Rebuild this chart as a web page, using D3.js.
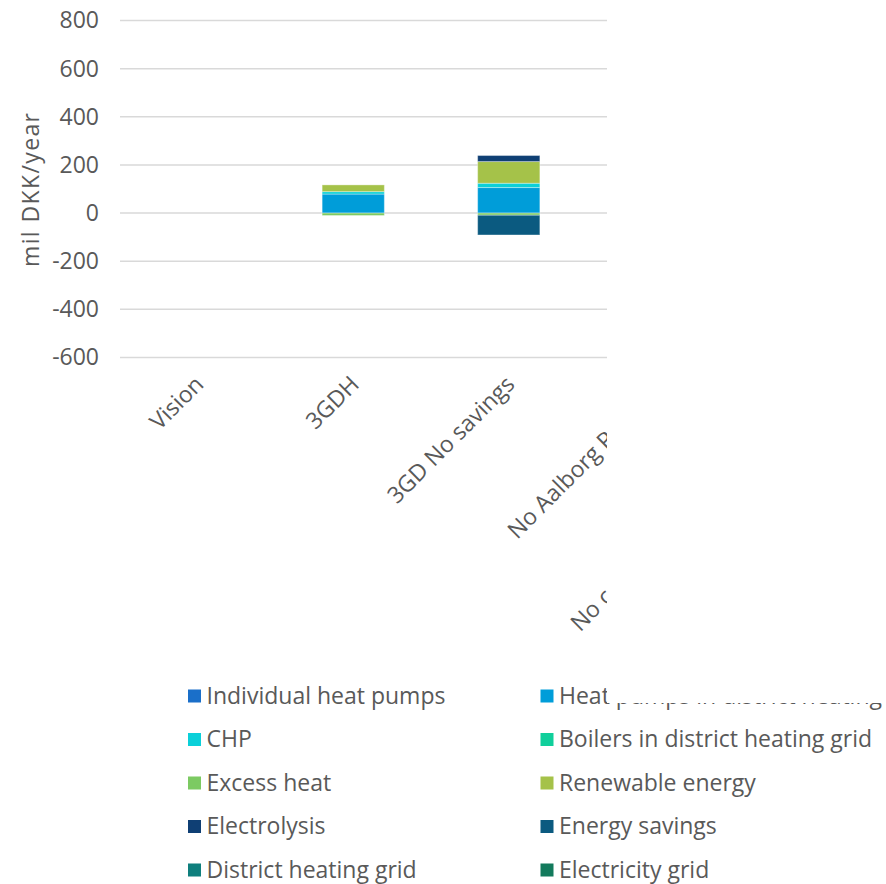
<!DOCTYPE html>
<html>
<head>
<meta charset="utf-8">
<script src="https://cdn.jsdelivr.net/npm/d3@7/dist/d3.min.js"></script>
<style>
  html, body { margin: 0; padding: 0; background: #ffffff; }
  svg { display: block; }
  text { font-family: "Open Sans", "DejaVu Sans", sans-serif; fill: #595959; }
</style>
</head>
<body>
<script>
// ---- data ----
const categories = ["Vision", "3GDH", "3GD No savings", "No Aalborg Portland", "No central district heating plants"];
const seriesNames = ["Individual heat pumps", "Heat pumps in district heating", "CHP",
  "Boilers in district heating grid", "Excess heat", "Renewable energy", "Electrolysis",
  "Energy savings", "District heating grid", "Electricity grid"];
const seriesColors = ["#1a6fc9", "#009dd9", "#0bd0d9", "#10cf9b", "#7cca62", "#a5c249",
  "#0f3f74", "#0b5a80", "#0f7f7d", "#137a5c"];
// values per series, in category order (mil DKK/year)
const individualHeatPumps = [0, 0, 0, 0, 0];
const heatPumpsDH = [0, 79, 106, 0, 0];
const chp = [0, 10, 18, 0, 0];
const boilersDH = [0, 0, 0, 0, 0];
const excessHeat = [0, -10, -9, 0, 0];
const renewableEnergy = [0, 28, 90, 0, 0];
const electrolysis = [0, 0, 25, 0, 0];
const energySavings = [0, 0, -82, 0, 0];
const districtHeatingGrid = [0, 0, 0, 0, 0];
const electricityGrid = [0, 0, 0, 0, 0];
const yTicks = [-600, -400, -200, 0, 200, 400, 600, 800];
const yTitle = "mil DKK/year";

const seriesValues = [individualHeatPumps, heatPumpsDH, chp, boilersDH, excessHeat,
  renewableEnergy, electrolysis, energySavings, districtHeatingGrid, electricityGrid];

const W = 886, H = 884;
const FS = "23px";
const svg = d3.select("body").append("svg").attr("width", W).attr("height", H);

const x = d3.scaleBand().domain(categories).range([120, 120 + 155.5 * categories.length])
  .paddingInner(0.6).paddingOuter(0.3);
const y = d3.scaleLinear().domain([-600, 800]).range([357.5, 20.5]);

// gridlines
svg.append("g").selectAll("line").data(yTicks).join("line")
  .attr("x1", 120).attr("x2", x.range()[1])
  .attr("y1", d => y(d)).attr("y2", d => y(d))
  .attr("stroke", "#d9d9d9").attr("stroke-width", 1.5);

// y axis labels
const yAxis = d3.axisLeft(y).tickValues(yTicks).tickSize(0).tickPadding(0)
  .tickFormat(d => String(d));
const gy = svg.append("g").attr("transform", "translate(99,0)").call(yAxis);
gy.select(".domain").remove();
gy.selectAll("text").style("font-size", FS).attr("fill", "#595959")
  .style("font-family", "'Open Sans', 'DejaVu Sans', sans-serif");

// y title
svg.append("text").attr("transform", "translate(31,190) rotate(-90)")
  .attr("text-anchor", "middle").attr("dy", "0.35em").style("font-size", "23px")
  .attr("textLength", 154).attr("lengthAdjust", "spacing").text(yTitle);

// stacked bars
const rows = categories.map((c, i) => {
  const r = { cat: c };
  seriesNames.forEach((s, j) => r[s] = seriesValues[j][i]);
  return r;
});
const stack = d3.stack().keys(seriesNames).offset(d3.stackOffsetDiverging);
const stacked = stack(rows);
svg.append("g").selectAll("g").data(stacked).join("g")
  .attr("fill", (d, i) => seriesColors[i])
  .selectAll("rect").data(d => d).join("rect")
  .attr("x", d => x(d.data.cat))
  .attr("width", x.bandwidth())
  .attr("y", d => y(Math.max(d[0], d[1])))
  .attr("height", d => Math.abs(y(d[0]) - y(d[1])))
  .attr("stroke", "rgba(255,255,255,0.35)").attr("stroke-width", 1);

// category labels
const gx = svg.append("g");
gx.selectAll("text").data(categories).join("text")
  .attr("transform", d => `translate(${x(d) + x.bandwidth() / 2 + 1.5},380) rotate(-45)`)
  .attr("text-anchor", "end").attr("dy", "0.35em")
  .style("font-size", FS).text(d => d);

// legend
const legCols = [188, 540.5];
const legRows = [696, 739.5, 783, 826.5, 870];
const lg = svg.append("g");
seriesNames.forEach((s, i) => {
  const cx = legCols[i % 2], cy = legRows[Math.floor(i / 2)];
  lg.append("rect").attr("x", cx).attr("y", cy - 6.5).attr("width", 13).attr("height", 13)
    .attr("fill", seriesColors[i]);
  lg.append("text").attr("x", cx + 18.5).attr("y", cy).attr("dy", "0.33em")
    .style("font-size", FS).text(s);
});

// the reference is cropped on the right: white cover above the legend row
svg.append("rect").attr("x", 607).attr("y", 0).attr("width", W - 607).attr("height", 703)
  .attr("fill", "#ffffff");
</script>
</body>
</html>
